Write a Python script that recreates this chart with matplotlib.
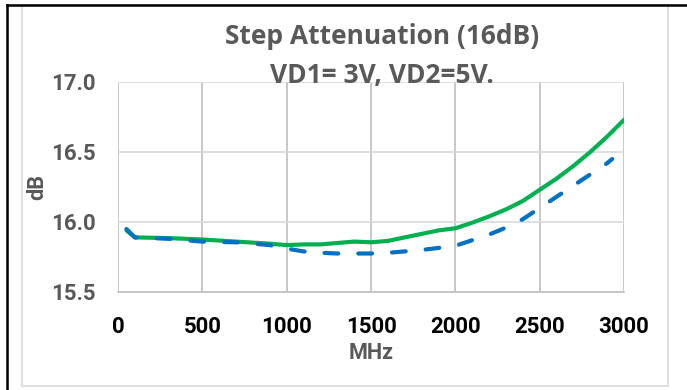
import matplotlib
matplotlib.use('Agg')
import matplotlib.pyplot as plt
from matplotlib.lines import Line2D
from matplotlib.patches import Rectangle

plt.rcParams['font.family'] = ['Roboto', 'DejaVu Sans']

# data
freq_green = [50, 100, 300, 500, 700, 900, 1000, 1100, 1200, 1300, 1400, 1500,
              1600, 1700, 1800, 1900, 2000, 2100, 2200, 2300, 2400, 2500, 2600,
              2700, 2800, 2900, 3000]
att_green = [15.94, 15.89, 15.885, 15.875, 15.86, 15.845, 15.835, 15.84, 15.84,
             15.85, 15.86, 15.855, 15.865, 15.89, 15.915, 15.94, 15.955, 15.995,
             16.04, 16.09, 16.15, 16.23, 16.31, 16.40, 16.50, 16.61, 16.73]

freq_blue = [50, 100, 300, 500, 700, 900, 1000, 1100, 1200, 1300, 1400, 1500,
             1600, 1700, 1800, 1900, 2000, 2100, 2200, 2300, 2400, 2500, 2600,
             2700, 2800, 2900, 2930]
att_blue = [15.95, 15.89, 15.88, 15.86, 15.855, 15.835, 15.81, 15.79, 15.78,
            15.775, 15.775, 15.775, 15.78, 15.79, 15.80, 15.815, 15.83, 15.87,
            15.91, 15.96, 16.02, 16.10, 16.18, 16.26, 16.34, 16.42, 16.45]

xticks = [0, 500, 1000, 1500, 2000, 2500, 3000]
yticks = [15.5, 16.0, 16.5, 17.0]

gray = '#595959'

fig = plt.figure(figsize=(6.87, 3.90), dpi=100)
ax = fig.add_axes([118 / 687, 1 - 292 / 390, (624 - 118) / 687, (292 - 82) / 390])

ax.plot(freq_green, att_green, '-', color='#00B050', lw=3.0, solid_capstyle='round')
ax.plot(freq_blue, att_blue, '--', color='#0070C0', lw=3.0,
        dashes=(3.3, 4.8), dash_capstyle='round')

ax.set_xlim(0, 3000)
ax.set_ylim(15.5, 17.0)
ax.set_xticks(xticks)
ax.set_yticks(yticks)
ax.set_xticklabels([str(t) for t in xticks], fontsize=16, fontweight='bold', color='black')
ax.set_yticklabels(['%.1f' % t for t in yticks], fontsize=16, fontweight='bold', color=gray)
ax.tick_params(length=0)
ax.tick_params(axis='y', pad=16)
ax.tick_params(axis='x', pad=17)

ax.grid(axis='x', color='#BFBFBF', lw=1.2)
ax.grid(axis='y', color='#D9D9D9', lw=1.2)
ax.set_axisbelow(True)
for s in ['top', 'left', 'right']:
    ax.spines[s].set_visible(False)
ax.spines['bottom'].set_color('#BFBFBF')
ax.spines['bottom'].set_linewidth(1.2)

ax.set_xlabel('MHz', fontsize=15.5, fontweight='bold', color=gray, labelpad=3)
ax.set_ylabel('dB', fontsize=15.5, fontweight='bold', color=gray, labelpad=2)

title_font = ['Open Sans', 'DejaVu Sans']
fig.text(0.556, 1 - 37 / 390, 'Step Attenuation (16dB)', ha='center', va='center',
         fontsize=19, fontweight='bold', color=gray, family=title_font)
fig.text(0.556, 1 - 75 / 390, 'VD1= 3V, VD2=5V.', ha='center', va='center',
         fontsize=19, fontweight='bold', color=gray, family=title_font)

# chart frame and page borders
fig.patches.append(Rectangle((22 / 687, 1 - 386 / 390), (668 - 22) / 687, (386 - 5) / 390,
                             transform=fig.transFigure, fill=False,
                             edgecolor='#D9D9D9', lw=1.2))
fig.lines.append(Line2D([7 / 687, 7 / 687], [0, 1 - 5 / 390], transform=fig.transFigure,
                        color='black', lw=1.8))
fig.lines.append(Line2D([7 / 687, 1], [1 - 5 / 390, 1 - 5 / 390], transform=fig.transFigure,
                        color='black', lw=1.8))

fig.savefig('out.png', dpi=100)
